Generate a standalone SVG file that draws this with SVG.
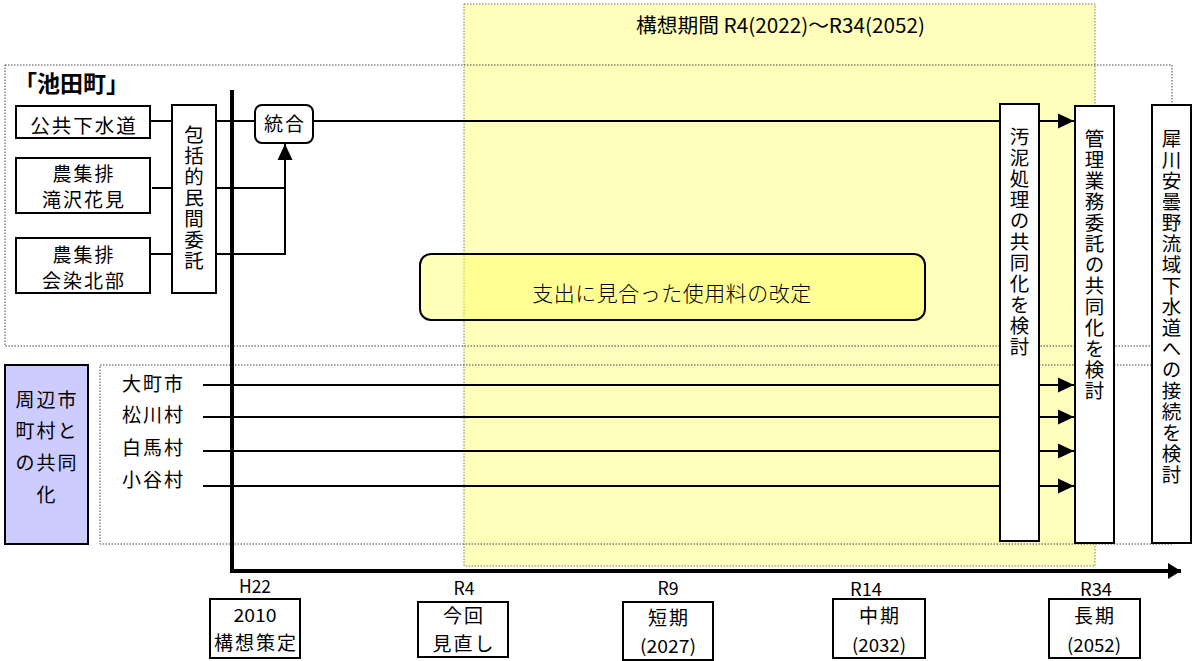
<svg xmlns="http://www.w3.org/2000/svg" width="1194" height="661" viewBox="0 0 1194 661">
<style>
text{font-family:"Noto Sans CJK JP","Liberation Sans",sans-serif;fill:#000}
.t{font-size:19px;letter-spacing:2px;text-anchor:middle}
.v{font-size:19.5px;letter-spacing:1.5px;writing-mode:vertical-rl;text-anchor:start}
.lab{font-size:19px;letter-spacing:2px}
.yr{font-size:18px;text-anchor:middle}
.box{fill:#fff;stroke:#000;stroke-width:2}
.dot{fill:none;stroke:#444;stroke-width:1;stroke-dasharray:1.5 1.5}
.ln{fill:none;stroke:#000;stroke-width:2}
</style>
<defs>
<marker id="ah" markerUnits="userSpaceOnUse" markerWidth="16" markerHeight="16" refX="16" refY="8" orient="auto">
<path d="M0,0.5 L16,8 L0,15.5 z" fill="#000"/>
</marker>
<marker id="ax" markerUnits="userSpaceOnUse" markerWidth="14" markerHeight="18" refX="13" refY="9" orient="auto">
<path d="M0,1 L13,9 L0,17 z" fill="#000"/>
</marker>
</defs>
<rect width="1194" height="661" fill="#fff"/>
<g id="period">
<rect x="464" y="4" width="631" height="562" fill="#ffffbb" stroke="#777" stroke-width="1" stroke-dasharray="1.5 1.5"/>
<text x="636" y="33" style="font-size:20px" textLength="289" lengthAdjust="spacingAndGlyphs">構想期間 R4(2022)～R34(2052)</text>
</g>
<g id="groups">
<rect class="dot" x="5" y="65" width="1167" height="281"/>
<rect class="dot" x="100" y="365" width="1072" height="179"/>
<text x="14" y="92" style="font-size:23px;font-weight:bold">「池田町」</text>
</g>
<g id="connectors">
<path class="ln" d="M150,121 H255"/>
<path class="ln" d="M313,121 H1074" marker-end="url(#ah)"/>
<path class="ln" d="M152,188 H285"/>
<path class="ln" d="M150,254 H285 V144" marker-end="url(#ah)"/>
<path class="ln" d="M203,385 H1074" marker-end="url(#ah)"/>
<path class="ln" d="M203,417 H1074" marker-end="url(#ah)"/>
<path class="ln" d="M203,451 H1074" marker-end="url(#ah)"/>
<path class="ln" d="M203,486 H1074" marker-end="url(#ah)"/>
<path d="M232,90 V571 H1181" fill="none" stroke="#000" stroke-width="4" marker-end="url(#ax)"/>
</g>
<g id="n-kokyo"><rect class="box" x="16" y="106" width="134" height="32"/><text class="t" x="84" y="133" style="font-size:19.5px">公共下水道</text></g>
<g id="n-takizawa"><rect class="box" x="16" y="158" width="134" height="55"/><text class="t" x="84" y="181">農集排</text><text class="t" x="84" y="207">滝沢花見</text></g>
<g id="n-aizome"><rect class="box" x="16" y="238" width="134" height="55"/><text class="t" x="84" y="262">農集排</text><text class="t" x="84" y="288">会染北部</text></g>
<g id="n-hokatsu"><rect class="box" x="172" y="105" width="44" height="188"/><text class="v" x="194" y="125">包括的民間委託</text></g>
<g id="n-togo"><rect class="box" x="255" y="105" width="58" height="38" rx="7"/><text class="t" x="285" y="131">統合</text></g>
<g id="n-ryokin"><rect x="420" y="254" width="505" height="66" rx="11" fill="#ffff66" fill-opacity="0.45" stroke="#000" stroke-width="2"/><text x="672" y="301" style="font-size:21px;font-weight:300" text-anchor="middle" letter-spacing="0.5">支出に見合った使用料の改定</text></g>
<g id="n-shuhen"><rect x="5" y="365" width="83" height="179" fill="#ccccff" stroke="#000" stroke-width="2"/>
<text class="t" x="47" y="407">周辺市</text><text class="t" x="47" y="438">町村と</text><text class="t" x="47" y="470">の共同</text><text class="t" x="47" y="502">化</text></g>
<g id="n-villages">
<text class="lab" x="122" y="391">大町市</text>
<text class="lab" x="122" y="422">松川村</text>
<text class="lab" x="122" y="455">白馬村</text>
<text class="lab" x="122" y="487">小谷村</text>
</g>
<g id="n-odei"><rect class="box" x="1000" y="104" width="39" height="437"/><text class="v" x="1019.5" y="127">汚泥処理の共同化を検討</text></g>
<g id="n-kanri"><rect class="box" x="1075" y="106" width="39" height="437"/><text class="v" x="1094.5" y="129">管理業務委託の共同化を検討</text></g>
<g id="n-saigawa"><rect class="box" x="1152" y="105" width="39" height="438"/><text class="v" x="1171.5" y="129">犀川安曇野流域下水道への接続を検討</text></g>
<g id="n-h22"><text class="yr" x="255" y="593" textLength="32" lengthAdjust="spacingAndGlyphs">H22</text><rect class="box" x="210" y="599" width="90" height="59"/><text class="yr" x="255" y="622" textLength="43" lengthAdjust="spacingAndGlyphs">2010</text><text class="t" x="256" y="650">構想策定</text></g>
<g id="n-r4"><text class="yr" x="464" y="595" textLength="21" lengthAdjust="spacingAndGlyphs">R4</text><rect class="box" x="418" y="602" width="90" height="55"/><text class="t" x="464" y="623">今回</text><text class="t" x="464" y="651">見直し</text></g>
<g id="n-r9"><text class="yr" x="668" y="595" textLength="21" lengthAdjust="spacingAndGlyphs">R9</text><rect class="box" x="623" y="602" width="90" height="58"/><text class="t" x="669" y="625">短期</text><text class="yr" x="668" y="653" textLength="56" lengthAdjust="spacingAndGlyphs">(2027)</text></g>
<g id="n-r14"><text class="yr" x="866" y="596" textLength="32" lengthAdjust="spacingAndGlyphs">R14</text><rect class="box" x="833" y="599" width="92" height="59"/><text class="t" x="880" y="623">中期</text><text class="yr" x="879" y="652" textLength="54" lengthAdjust="spacingAndGlyphs">(2032)</text></g>
<g id="n-r34"><text class="yr" x="1096" y="596" textLength="32" lengthAdjust="spacingAndGlyphs">R34</text><rect class="box" x="1049" y="599" width="91" height="59"/><text class="t" x="1095" y="623">長期</text><text class="yr" x="1094" y="652" textLength="54" lengthAdjust="spacingAndGlyphs">(2052)</text></g>
</svg>
